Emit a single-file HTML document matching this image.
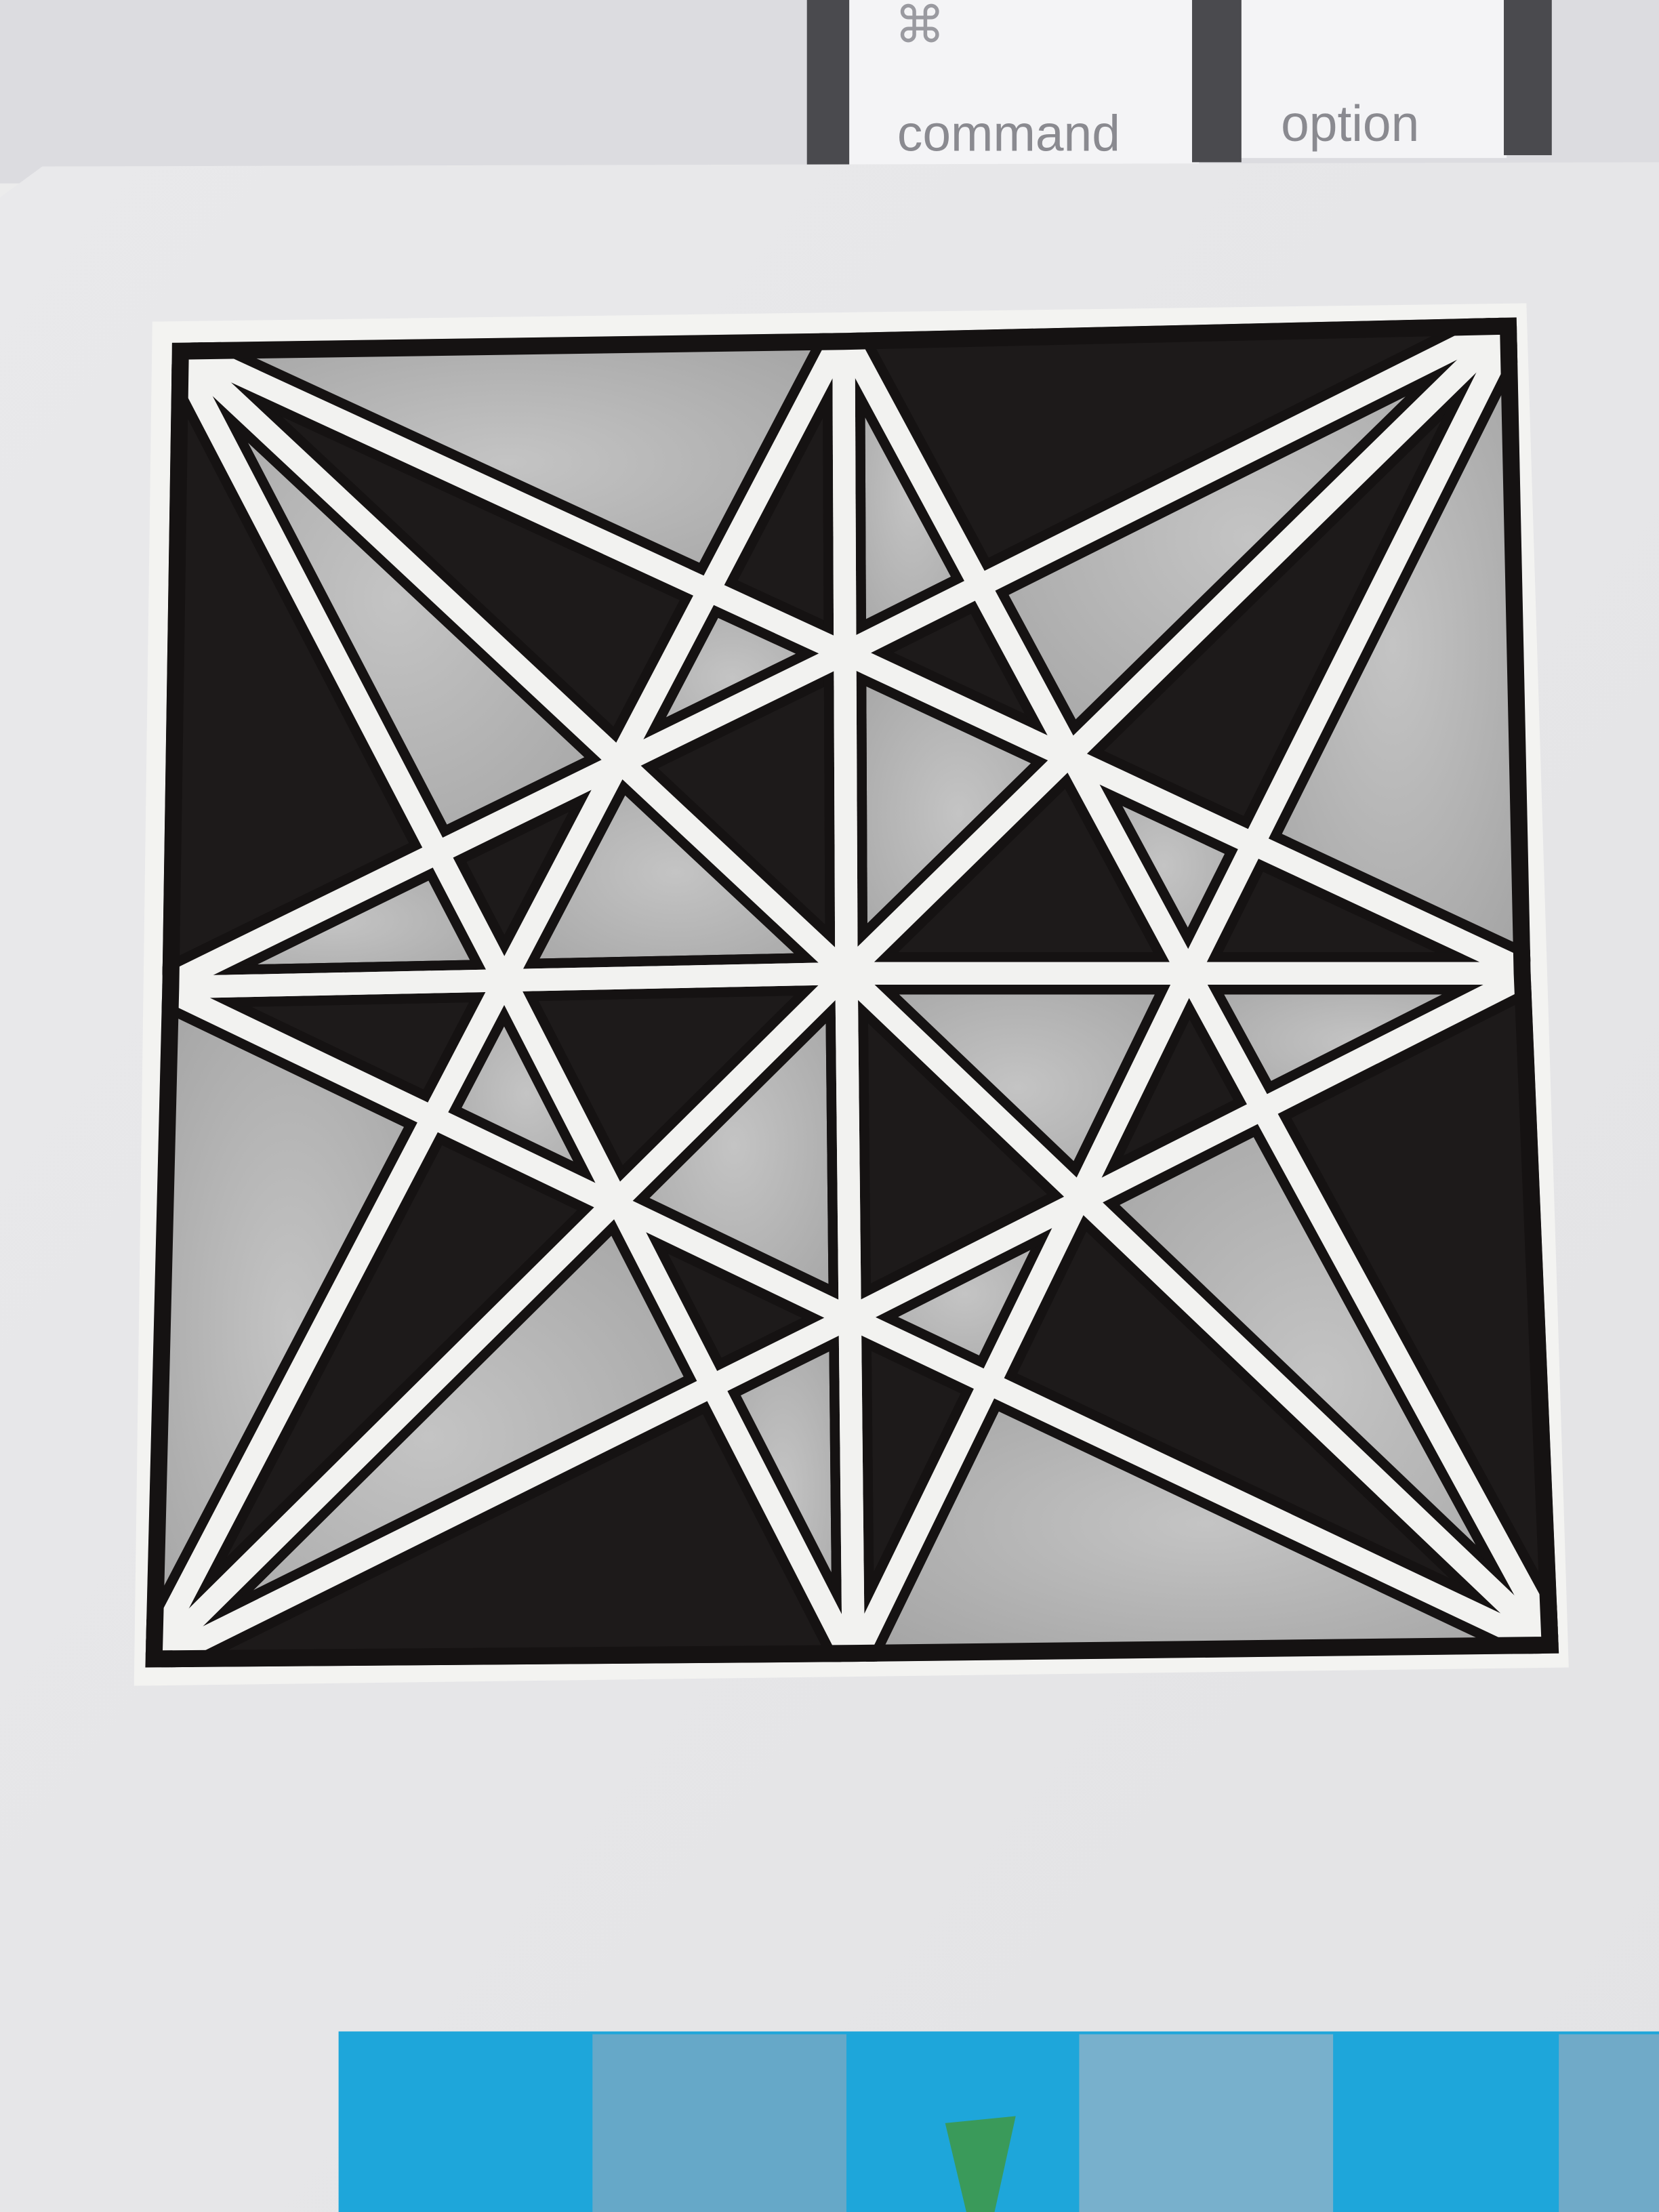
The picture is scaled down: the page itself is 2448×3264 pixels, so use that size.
<!DOCTYPE html>
<html><head><meta charset="utf-8">
<style>
html,body{margin:0;padding:0;background:#ececec;}
svg{display:block;}
</style></head>
<body>
<svg id="svg" width="2448" height="3264" viewBox="0 0 1176 1568" preserveAspectRatio="none" xmlns="http://www.w3.org/2000/svg">
  <defs>
    <linearGradient id="paper" x1="0" y1="0" x2="1" y2="1">
      <stop offset="0" stop-color="#e9e9eb"/>
      <stop offset="1" stop-color="#e3e3e5"/>
    </linearGradient>
    <radialGradient id="graygrad" cx="0.5" cy="0.5" r="0.7">
      <stop offset="0" stop-color="#c4c4c4"/>
      <stop offset="1" stop-color="#a2a2a2"/>
    </radialGradient>
    <clipPath id="sq"><polygon points="122,243 598,236 1075,225 1085,690 1105,1172 605,1178 103,1182 115,700"/></clipPath>
  </defs>
  <rect x="0" y="0" width="1176" height="130" fill="#dcdce0"/>
  <rect x="600" y="0" width="250" height="118" fill="#f4f4f6"/>
  <rect x="878" y="0" width="190" height="112" fill="#f4f4f6"/>
  <rect x="572" y="0" width="30" height="120" fill="#4a4a4e"/>
  <rect x="845" y="0" width="35" height="115" fill="#4a4a4e"/>
  <rect x="1066" y="0" width="34" height="110" fill="#4a4a4e"/>
  <text x="634" y="30" font-family="DejaVu Sans, sans-serif" font-size="36" fill="#9a9aa0">⌘</text>
  <text x="636" y="107" font-family="Liberation Sans, sans-serif" font-size="36" fill="#8a8a90">command</text>
  <text x="908" y="100" font-family="Liberation Sans, sans-serif" font-size="36" fill="#8a8a90">option</text>
  <polygon points="0,140 30,118 1176,115 1176,1568 0,1568" fill="url(#paper)"/>
  <polygon points="108,228 1082,215 1112,1182 95,1195" fill="#f3f3f1"/>
  <g id="drawing" clip-path="url(#sq)"></g>
  <g>
    <rect x="240" y="1440" width="936" height="128" fill="#1ea6da"/>
    <rect x="420" y="1442" width="180" height="126" fill="#66a8c8"/>
    <rect x="765" y="1442" width="180" height="126" fill="#78b0cc"/>
    <rect x="1105" y="1442" width="71" height="126" fill="#70aac8"/>
    <polygon points="670,1505 720,1500 705,1568 685,1568" fill="#3a9a5a"/>
  </g>
</svg>
<script>
const NS='http://www.w3.org/2000/svg';
const TL=[122,243],TM=[598,236],TR=[1075,225],RM=[1085,690],BR=[1105,1172],BM=[605,1178],BL=[103,1182],LM=[115,700],C=[600,690];
// quadrant: outer corner O, P, Q (Q side black)
const quads=[[TL,TM,LM],[TR,RM,TM],[BR,BM,RM],[BL,LM,BM]];
const g=document.getElementById('drawing');
function map(q,u,v){
  const [O,P,Q]=q;
  return [0,1].map(k=>O[k]+u*(P[k]-O[k])+v*(Q[k]-O[k])+u*v*(C[k]-P[k]-Q[k]+O[k]));
}
const L={O:[0,0],P:[1,0],Q:[0,1],C:[1,1],M1:[1,0.5],M2:[0.5,1],X:[0.4,0.8],Y:[0.8,0.4],Z:[2/3,2/3]};
const regions=[
  [['O','Q','X'],'#1d1a1a'],[['O','Y','Z'],'#1d1a1a'],[['P','M1','Y'],'#1d1a1a'],[['M1','Z','C'],'#1d1a1a'],[['X','Z','M2'],'#1d1a1a'],
  [['O','P','Y'],'url(#graygrad)'],[['O','Z','X'],'url(#graygrad)'],[['Y','Z','M1'],'url(#graygrad)'],[['M2','Z','C'],'url(#graygrad)'],[['Q','X','M2'],'url(#graygrad)']
];
const bands=[['O','C'],['O','M1'],['O','M2'],['P','M2'],['Q','M1'],['P','C'],['Q','C']];
quads.forEach(q=>{
  regions.forEach(([pts,fill])=>{
    const p=document.createElementNS(NS,'polygon');
    
    
    p.setAttribute('points',pts.map(n=>map(q,...L[n]).join(',')).join(' '));
    p.setAttribute('fill',fill);
    g.appendChild(p);
  });
});
[['#151212',30],['#f2f2f0',16]].forEach(([col,w])=>{
  quads.forEach(q=>{
    bands.forEach(([a,b])=>{
      const A=map(q,...L[a]),B=map(q,...L[b]);
      const l=document.createElementNS(NS,'line');
      
      
      l.setAttribute('x1',A[0]);l.setAttribute('y1',A[1]);
      l.setAttribute('x2',B[0]);l.setAttribute('y2',B[1]);
      l.setAttribute('stroke',col);l.setAttribute('stroke-width',w);
      g.appendChild(l);
    });
  });
});
const b=document.createElementNS(NS,'polygon');


b.setAttribute('points','122,243 598,236 1075,225 1085,690 1105,1172 605,1178 103,1182 115,700');
b.setAttribute('fill','none');b.setAttribute('stroke','#151212');b.setAttribute('stroke-width','24');
g.appendChild(b);
</script>
</body></html>
